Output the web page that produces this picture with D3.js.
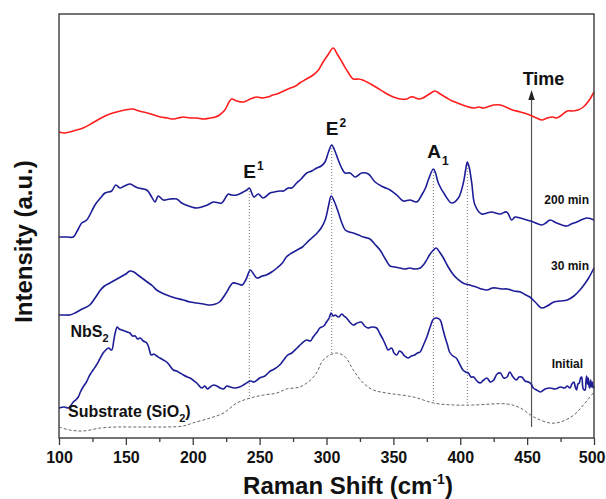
<!DOCTYPE html>
<html>
<head>
<meta charset="utf-8">
<script src="https://cdn.jsdelivr.net/npm/d3@7"></script>
<style>
  html, body { margin: 0; padding: 0; background: #fff; }
  svg { display: block; }
  text { font-family: "Liberation Sans", Arial, sans-serif; font-weight: bold; fill: #111; }
</style>
</head>
<body>
<svg id="chart" width="606" height="499"></svg>
<script>
// Raman spectra of the NbS2 film: [Raman shift (cm^-1), intensity (a.u., offset stacked)]
const spectrumTop = [
  [100,312],[104,311],[108,312],[113,314],[118,316],[125,321],[133,327],[138,330],[143,332],[149,334],
  [155,335],[160,333],[166,331],[171,329],[176,327],[181,326],[185,325],[189,326],[193,327],[198,326],
  [203,326],[208,325],[213,326],[217,327],[220,329],[224,334],[229,345],[233,343],[238,342],[243,345],
  [248,347],[252,346],[256,347],[260,349],[263,350],[268,353],[273,356],[277,358],[280,361],[285,365],
  [290,369],[294,374],[297,381],[301,389],[305,396],[308,390],[312,381],[316,372],[320,365],[324,365],
  [327,364],[333,360],[338,356],[344,351],[350,347],[355,345],[360,345],[363,347],[365,347],[369,345],
  [372,346],[377,350],[381,353],[385,350],[390,346],[394,343],[398,341],[404,338],[410,336],[414,337],
  [417,336],[420,337],[425,339],[430,339],[434,337],[439,334],[445,332],[452,329],[457,326],[461,324],
  [465,326],[469,327],[472,326],[475,328],[480,333],[484,333],[488,334],[492,337],[496,343],[500,352]
];

const spectrum200min = [
  [100,207],[106,207],[110.7,207],[114,214],[117,221],[120.7,224],[126.9,239],[131,246],[134.4,251],[139.4,253],
  [142.4,259],[145.6,256],[149,258],[153.1,260],[156,258],[159.3,256],[165.6,254],[169.3,247],[171.8,242],[174.2,248],
  [178,244],[183,245],[188,245],[191.7,241],[195,239],[199.2,237],[203,236],[206.7,237],[211,239],[215.4,242],
  [221.6,241],[226.6,250],[229,249],[232.9,249],[237.8,252],[240.5,254],[242.3,256],[245.8,247],[249,250],[252.7,246],
  [257.8,251],[261,252],[265.2,253],[268,253],[271.4,256],[274,256],[277.7,261],[281,265],[285.2,271],[289,273],
  [292.7,276],[296,278],[298.9,282],[301.5,292],[303.9,299],[306,294],[308.8,284],[311,277],[313.8,271],[317.6,271],
  [321.3,267],[324,269],[326.3,271],[331.3,270],[336.3,262],[342.5,257],[347.5,254],[352.5,249],[357.4,243],[362.4,244],
  [367.4,242],[371.2,249],[374,256],[376.1,264],[379.9,275],[381.5,271],[383.6,261],[388.6,249],[393.6,241],[398.6,246],
  [402.3,261],[404,274],[405.3,282],[406.8,276],[408.6,261],[411,239],[416,230],[420,231],[423.5,232],[429.7,230],
  [434.7,232],[438.5,224],[441,227],[444.7,226],[449.7,224],[454.6,222],[460.9,219],[464,221],[467.1,224],[472.1,221],
  [479.6,218],[483,220],[487.1,222],[494.6,226],[500,224]
];

const spectrum30min = [
  [100,129],[104,129],[108,129],[112,131],[116,134],[123,139],[127,146],[131,154],[134,158],[138,161],
  [142,164],[146,167],[150,170],[153,173],[156,172],[159,169],[163,165],[166,162],[170,158],[173,154],
  [177,151],[180.5,149],[187,146],[193,144],[198,142],[203,141],[208,140],[213,139],[217,140],[220,142],
  [225,151],[230,161],[234,160],[237,159],[240,165],[243,174],[245.5,170],[248,166],[252,168],[255,169],
  [259,172],[263,176],[267,181],[270,187],[274,191],[278,194],[282,197],[285,201],[289,206],[293,211],
  [296,216],[299,224],[301.5,238],[303.5,248],[306,242],[309,231],[311.5,221],[314,214],[317,212],[320,211],
  [324,209],[327.5,207],[332.5,205],[336,200],[340,194],[344,185],[347.5,178],[351,177],[355,176],[359,175],
  [362,176],[366,175],[370,176],[374,182],[377,189],[380,194],[382,196],[384.5,192],[387,187],[391,177],
  [395,169],[398,165],[402,161],[407,159],[412,157],[416,155],[420,154],[424,156],[427,156],[431,155],
  [435,155],[440,153],[445,152],[449,149],[452,147],[456,142],[461,136],[465,138],[470,142],[475,143],
  [480,144],[485,148],[489.5,154],[493,160],[496,166],[500,176]
];

const spectrumInitial = [
  [100,36],[104,37],[107,36],[110.7,42],[112.5,44],[114.4,47],[116,52],[118,57],[120.5,62],[123,69],
  [125.5,74],[128,79],[130.5,85],[133,91],[135,94],[137,96],[139.4,94],[141,104],[142,111],[143.5,117],
  [145,115],[147,114],[149,113],[151,112],[153,111],[155,108],[157,108],[158.8,105],[160.6,106],[163,103],
  [165.6,101],[167,97],[169,89],[171,90],[173,88],[175.5,86],[178,84],[180.5,82],[183,78],[185.5,74],
  [188,73],[190.5,71],[193,69],[196,67],[198,66],[200,64],[203,61],[206.7,56],[209,58],[211,55],
  [213,57],[215.5,59],[218,58],[220.5,56],[223,55],[225.5,58],[228,57],[231,56],[235,57],[239,60],
  [243,63],[246,62],[250,66],[254,68],[258,73],[261,75],[265,79],[268,84],[271,89],[274,91],
  [278,96],[281,100],[285,104],[288,103],[290,107],[293,112],[295,116],[298,118],[300,122],[302,126],
  [303.4,131],[305,128],[306.4,129],[309,127],[311.4,130],[313,128],[315,126],[318,121],[320,119],[323,121],
  [326,122],[328.5,118],[331,116],[334,117],[337.5,116],[340,110],[342.5,104],[344.5,98],[346,94],[348.7,96],
  [350.5,91],[352.5,89],[354.5,93],[356,92],[358.5,88],[361,86],[363.5,88],[366,89],[368,91],[370,92],
  [372.5,99],[375,107],[377.5,117],[380,125],[382.5,126],[385,124],[387,115],[388.6,107],[390.5,99],[392,92],
  [394.5,88],[397,86],[399.5,80],[402,74],[404,72],[406,71],[408,67],[410,67],[412.5,63],[415,61],
  [417.5,64],[420,66],[422.5,62],[425,64],[427.5,70],[430,71],[432.5,66],[435,67],[437,72],[439.5,67],
  [442,64],[444,67],[446,67],[448.5,63],[451,62],[453,60],[454.6,56],[457,54],[460,52],[463.5,55],
  [467,56],[471,55],[475,57],[478,56],[480,58],[482,56],[483.5,60],[485,62],[486,57],[487,54],
  [488,60],[489,61],[490,66],[490.8,67],[491.5,58],[492,55],[493.3,54],[494,63],[494.5,68],[495.2,60],
  [495.7,66],[496.3,58],[496.8,56],[497.5,64],[498.2,57],[498.8,62],[499.4,56],[500,58]
];

const spectrumSubstrate = [
  [100,17],[108,14],[118,13],[131,16],[143,17],[156,17],[168,17],[180.5,17],[193,18],[200,21],
  [213,26],[223,31],[233,41],[243,46],[253,49],[263,51],[270,55],[280,57],[288,64],[293,72],
  [296,81],[300,87],[307.6,91],[314,87],[320,74],[327.5,61],[335,54],[345,51],[365,47],[380,41],
  [395,39],[410,39],[435,40],[445,36],[455,27],[467,21],[475,22],[485,29],[492,39],[500,52]
];

// Phonon mode positions marked with dotted guides (cm^-1)
const modeShifts = [242.3, 303.9, 379.9, 405.3];
const modeNames = ["E", "E", "A", null];
const modeIndices = ["1", "2", "1", null];

const majorTicks = [100, 150, 200, 250, 300, 350, 400, 450, 500];
const minorTicks = [125, 175, 225, 275, 325, 375, 425, 475];

const svg = d3.select("#chart");
const plot = { left: 59, right: 594, top: 14, bottom: 438 };

const x = d3.scaleLinear().domain([100, 500]).range([plot.left, plot.right]);
const y = d3.scaleLinear().domain([6, 430]).range([plot.bottom, plot.top]);

const line = d3.line()
  .x(d => x(d[0]))
  .y(d => y(d[1]))
  .curve(d3.curveCatmullRom.alpha(0.5));

// linear lookup of a spectrum's intensity at a given shift
function valueAt(series, s) {
  const i = d3.bisector(d => d[0]).left(series, s);
  if (i <= 0) return series[0][1];
  if (i >= series.length) return series[series.length - 1][1];
  const a = series[i - 1], b = series[i];
  return a[1] + (b[1] - a[1]) * (s - a[0]) / (b[0] - a[0]);
}

// dotted mode guides, from the 200 min spectrum down to the substrate trace
svg.append("g").selectAll("line")
  .data(modeShifts)
  .join("line")
  .attr("x1", d => x(d)).attr("x2", d => x(d))
  .attr("y1", d => y(valueAt(spectrum200min, d)))
  .attr("y2", d => y(valueAt(spectrumSubstrate, d)))
  .attr("stroke", "#777")
  .attr("stroke-width", 1)
  .attr("stroke-dasharray", "1,2");

// time arrow
const arrowShift = 453.3, arrowBase = 17, arrowTip = 354;
svg.append("line")
  .attr("x1", x(arrowShift)).attr("x2", x(arrowShift))
  .attr("y1", y(arrowBase)).attr("y2", y(arrowTip) + 8)
  .attr("stroke", "#555").attr("stroke-width", 1.2);
svg.append("path")
  .attr("d", `M${x(arrowShift)},${y(arrowTip)} l-3.2,10 l6.4,0 z`)
  .attr("fill", "#222");
svg.append("text")
  .attr("x", x(arrowShift) + 12).attr("y", 85)
  .attr("text-anchor", "middle")
  .style("font-size", "18px")
  .text("Time");

// substrate trace
svg.append("path")
  .datum(spectrumSubstrate)
  .attr("d", line)
  .attr("fill", "none")
  .attr("stroke", "#666")
  .attr("stroke-width", 1)
  .attr("stroke-dasharray", "3,2");

// spectra
const blue = "#1d1d97";
[[spectrumInitial, blue], [spectrum30min, blue], [spectrum200min, blue], [spectrumTop, "#ff1e1e"]]
  .forEach(([data, color]) => {
    svg.append("path")
      .datum(data)
      .attr("d", line)
      .attr("fill", "none")
      .attr("stroke", color)
      .attr("stroke-width", 1.6)
      .attr("stroke-linejoin", "round");
  });

// mode labels
const modeLabelY = [178, 135, 158.3];
modeShifts.forEach((s, i) => {
  if (!modeNames[i]) return;
  const t = svg.append("text")
    .attr("x", x(s) - 6).attr("y", modeLabelY[i])
    .style("font-size", "19px");
  t.append("tspan").text(modeNames[i]);
  t.append("tspan")
    .attr("dx", 1)
    .attr("dy", modeNames[i] === "A" ? 7 : -8)
    .style("font-size", "12px")
    .text(modeIndices[i]);
});

// spectrum labels
const sideLabel = (txt, xx, yy, size, anchor) => svg.append("text")
  .attr("x", xx).attr("y", yy)
  .attr("text-anchor", anchor)
  .style("font-size", size + "px")
  .text(txt);
sideLabel("200 min", 589, 204, 12, "end");
sideLabel("30 min", 589, 270, 12, "end");
sideLabel("Initial", 583, 368, 12, "end");

const nbs = svg.append("text").attr("x", 70.5).attr("y", 336.5).style("font-size", "16px");
nbs.append("tspan").text("NbS");
nbs.append("tspan").attr("dy", 5).style("font-size", "11px").text("2");

const sub = svg.append("text").attr("x", 68).attr("y", 416.5).style("font-size", "16px");
sub.append("tspan").text("Substrate (SiO");
sub.append("tspan").attr("dy", 5).style("font-size", "11px").text("2");
sub.append("tspan").attr("dy", -5).text(")");

// frame
svg.append("rect")
  .attr("x", plot.left).attr("y", plot.top)
  .attr("width", plot.right - plot.left).attr("height", plot.bottom - plot.top)
  .attr("fill", "none").attr("stroke", "#3a3a3a").attr("stroke-width", 1.4);

// x axis
const axisG = svg.append("g").attr("transform", `translate(0,${plot.bottom})`);
axisG.call(d3.axisBottom(x).tickValues(majorTicks).tickSize(7).tickPadding(7).tickFormat(d3.format("d")));
axisG.append("g").call(d3.axisBottom(x).tickValues(minorTicks).tickSize(4).tickFormat(""));
axisG.selectAll(".domain").remove();
axisG.selectAll("line").attr("stroke", "#3a3a3a").attr("stroke-width", 1.3);
axisG.selectAll("text")
  .style("font-size", "16px")
  .style("font-family", "'Liberation Sans', Arial, sans-serif")
  .style("font-weight", "bold")
  .attr("fill", "#111");
// keep the last label inside the page edge
axisG.selectAll(".tick text").filter(d => d === 500)
  .attr("text-anchor", "end")
  .attr("x", 605 - x(500));

// axis titles
const xt = svg.append("text")
  .attr("x", 348).attr("y", 494)
  .attr("text-anchor", "middle")
  .style("font-size", "24px");
xt.append("tspan").text("Raman Shift (cm");
xt.append("tspan").attr("dy", -10).style("font-size", "14px").text("-1");
xt.append("tspan").attr("dy", 10).text(")");

svg.append("text")
  .attr("transform", "translate(32,241.5) rotate(-90)")
  .attr("text-anchor", "middle")
  .style("font-size", "24px")
  .text("Intensity (a.u.)");
</script>
</body>
</html>
